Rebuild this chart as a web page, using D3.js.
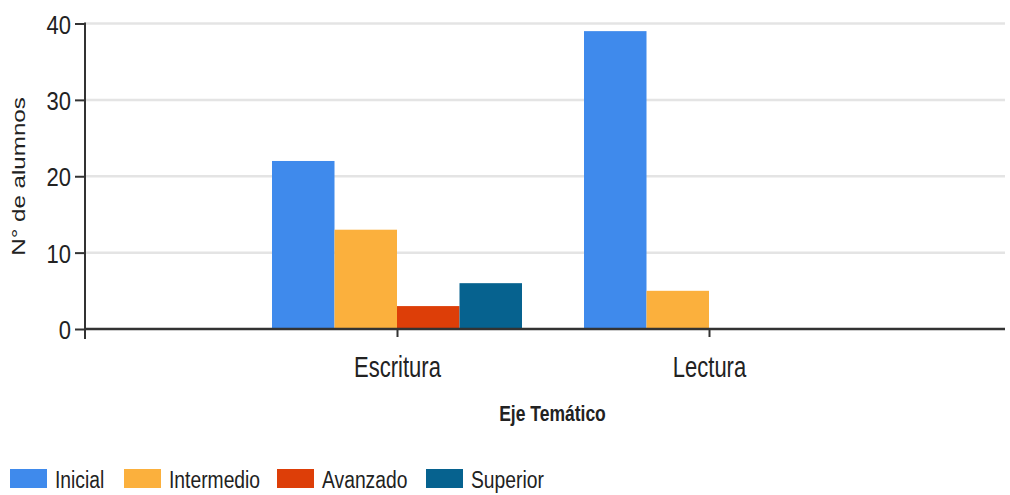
<!DOCTYPE html>
<html><head><meta charset="utf-8">
<script src="https://cdn.jsdelivr.net/npm/d3@7"></script>
<style>body{margin:0;background:#fff}svg{display:block}text{font-family:"Liberation Sans",Arial,sans-serif;fill:#222}</style>
</head><body><svg id="c" width="1010" height="495"></svg>
<script>
const categories = ["Escritura", "Lectura"];
const seriesNames = ["Inicial", "Intermedio", "Avanzado", "Superior"];
const inicial = [22, 39];
const intermedio = [13, 5];
const avanzado = [3, 0];
const superior = [6, 0];
const yTicks = [0, 10, 20, 30, 40];
const colors = ["#3f8aec", "#fbb03d", "#dd3e08", "#06628f"];
const seriesValues = [inicial, intermedio, avanzado, superior];

const svg = d3.select("#c");
const x0 = 85, x1 = 1005;
const y = d3.scaleLinear().domain([0, 40]).range([329, 23.5]);
const xc = d3.scalePoint().domain(categories).range([85, 1021]).padding(1);
const groupW = 250;
const xs = d3.scaleBand().domain(seriesNames).range([-groupW/2, groupW/2]).padding(0);

// gridlines
svg.append("g").selectAll("line").data(yTicks.filter(d => d > 0)).join("line")
  .attr("x1", x0).attr("x2", x1).attr("y1", d => y(d)).attr("y2", d => y(d))
  .attr("stroke", "#e4e4e4").attr("stroke-width", 2.5);

// bars
seriesNames.forEach((s, i) => {
  svg.append("g").selectAll("rect").data(categories.map((c, j) => ({c, v: seriesValues[i][j]}))).join("rect")
    .attr("x", d => xc(d.c) + xs(s)).attr("width", xs.bandwidth())
    .attr("y", d => y(d.v)).attr("height", d => y(0) - y(d.v))
    .attr("fill", colors[i]);
});

// y axis
const ya = svg.append("g").attr("transform", `translate(${x0},0)`)
  .call(d3.axisLeft(y).tickValues(yTicks).tickSize(10).tickPadding(4));
ya.select(".domain").attr("stroke", "#333").attr("stroke-width", 2).attr("d", `M0,${y(40)-1}V${y(0)+10}`);
ya.selectAll(".tick line").attr("stroke", "#333").attr("stroke-width", 2);
ya.selectAll(".tick text").attr("font-size", 22).attr("fill", "#222")
  .attr("dy", "0.36em").attr("transform", "scale(1,1.2)")
  .style("font-family", '"Liberation Sans",Arial,sans-serif');

// x axis
const xa = svg.append("g").attr("transform", `translate(0,${y(0)})`)
  .call(d3.axisBottom(xc).tickSize(8));
xa.select(".domain").attr("stroke", "#333").attr("stroke-width", 2.5).attr("d", `M${x0},0H${x1}`);
xa.selectAll(".tick line").attr("stroke", "#333").attr("stroke-width", 2);
xa.selectAll(".tick text").attr("font-size", 22).attr("fill", "#222")
  .attr("y", 0).attr("dy", 0).attr("transform", "translate(0,48) scale(1,1.33)")
  .style("font-family", '"Liberation Sans",Arial,sans-serif');

// axis titles
svg.append("text").attr("transform", "translate(552.5,421) scale(1,1.25)")
  .attr("text-anchor", "middle").attr("font-size", 17.5).attr("font-weight", "bold").text("Eje Temático");
svg.append("text").attr("transform", "translate(25,176.5) rotate(-90) scale(1.38,1)")
  .attr("text-anchor", "middle").attr("font-size", 17.5).text("N° de alumnos");

// legend
const legX = [10, 124, 277, 426];
seriesNames.forEach((s, i) => {
  const g = svg.append("g").attr("transform", `translate(${legX[i]},469)`);
  g.append("rect").attr("width", 37).attr("height", 19).attr("fill", colors[i]);
  g.append("text").attr("transform", "translate(45,19) scale(1,1.2)").attr("font-size", 19.3).text(s);
});
</script></body></html>
